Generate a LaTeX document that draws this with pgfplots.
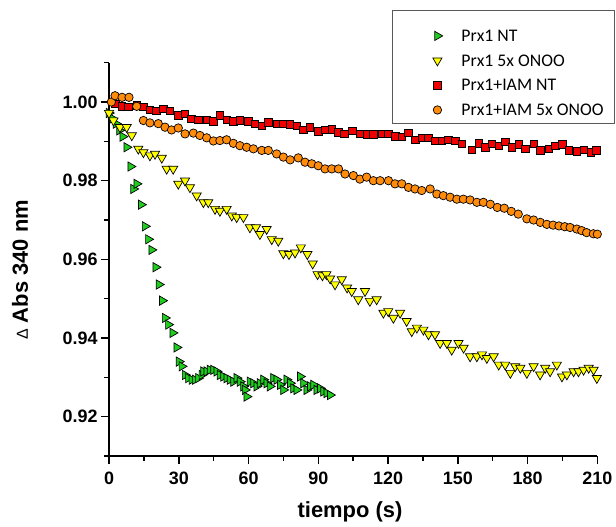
\documentclass[border=0pt]{standalone}
\usepackage{pgfplots}
\pgfplotsset{compat=1.18}
\usepackage{pgfplotstable}
\usepackage{fontspec}
\setmainfont{Liberation Sans}
\newfontfamily\carlito{Carlito}
\definecolor{cgreen}{RGB}{30,205,30}
\definecolor{cyellow}{RGB}{255,255,0}
\definecolor{cred}{RGB}{240,0,0}
\definecolor{corange}{RGB}{255,140,10}

\pgfplotstableread{
x y
0.0 0.9972
1.5 0.9958
3.0 0.9945
4.5 0.9928
5.9 0.9912
7.6 0.9885
9.3 0.9836
10.5 0.9779
11.9 0.9792
13.8 0.9739
15.5 0.9684
16.9 0.9651
18.3 0.9624
20.1 0.9580
21.5 0.9536
22.9 0.9495
24.1 0.9451
25.5 0.9434
27.4 0.9413
29.1 0.9376
30.1 0.9340
31.3 0.9328
32.7 0.9306
34.1 0.9298
35.6 0.9294
37.0 0.9294
38.4 0.9298
39.9 0.9306
40.6 0.9315
42.0 0.9315
43.4 0.9319
44.9 0.9319
46.3 0.9315
47.7 0.9306
49.2 0.9302
50.6 0.9298
52.0 0.9294
53.5 0.9289
54.9 0.9298
56.3 0.9289
57.8 0.9277
58.5 0.9268
59.2 0.9251
60.6 0.9289
62.1 0.9285
63.5 0.9277
64.9 0.9285
66.4 0.9294
67.8 0.9285
69.2 0.9277
70.7 0.9298
72.1 0.9294
73.6 0.9281
75.0 0.9268
76.4 0.9294
77.9 0.9285
79.3 0.9272
80.7 0.9268
82.2 0.9302
83.6 0.9285
85.0 0.9268
86.5 0.9277
87.9 0.9281
89.3 0.9268
90.8 0.9272
92.2 0.9264
93.6 0.9260
95.1 0.9255
}\greentab

\pgfplotstableread{
x y
0.0 0.9972
1.9 0.9953
4.7 0.9936
7.6 0.9936
9.8 0.9915
12.6 0.9881
14.8 0.9872
17.6 0.9864
19.8 0.9868
22.7 0.9858
24.8 0.9830
27.6 0.9830
29.8 0.9792
32.7 0.9800
34.8 0.9783
37.7 0.9762
40.6 0.9745
42.7 0.9745
45.6 0.9728
47.7 0.9723
50.6 0.9728
52.8 0.9711
54.9 0.9707
57.8 0.9707
60.6 0.9681
63.2 0.9681
64.9 0.9664
67.8 0.9677
70.0 0.9651
72.8 0.9647
75.0 0.9615
77.4 0.9613
80.0 0.9617
82.5 0.9630
85.3 0.9613
87.6 0.9589
89.7 0.9562
91.8 0.9559
93.5 0.9562
95.1 0.9551
97.2 0.9536
100.1 0.9549
102.4 0.9528
104.4 0.9519
107.2 0.9498
110.1 0.9519
112.2 0.9494
115.1 0.9498
118.0 0.9464
120.1 0.9468
122.3 0.9451
125.2 0.9464
128.0 0.9443
130.2 0.9417
132.4 0.9426
135.2 0.9421
137.4 0.9409
140.2 0.9409
142.4 0.9387
145.3 0.9387
147.4 0.9370
150.3 0.9387
152.5 0.9375
155.3 0.9353
158.2 0.9353
160.4 0.9358
162.5 0.9349
165.4 0.9353
167.6 0.9332
170.4 0.9332
172.6 0.9311
174.7 0.9328
176.9 0.9324
179.7 0.9311
182.6 0.9328
185.4 0.9307
187.6 0.9324
189.7 0.9315
192.6 0.9332
194.8 0.9302
196.9 0.9307
199.8 0.9315
201.9 0.9315
204.1 0.9319
206.3 0.9324
208.4 0.9319
209.8 0.9298
}\yellowtab

\pgfplotstableread{
x y
2.8 0.9995
5.4 0.9989
8.3 0.9987
11.9 0.9992
14.8 0.9987
17.6 0.9980
20.4 0.9977
23.4 0.9983
26.2 0.9977
29.8 0.9966
32.7 0.9970
35.5 0.9957
38.4 0.9955
42.0 0.9955
44.9 0.9951
47.7 0.9966
50.6 0.9955
53.5 0.9951
56.3 0.9953
59.9 0.9951
62.8 0.9945
65.7 0.9939
68.5 0.9948
72.1 0.9944
75.0 0.9944
77.9 0.9943
80.7 0.9939
83.6 0.9930
86.5 0.9936
90.1 0.9925
93.0 0.9929
95.8 0.9931
98.7 0.9923
101.3 0.9919
104.6 0.9926
108.0 0.9919
110.8 0.9918
113.7 0.9918
117.3 0.9919
120.2 0.9919
123.1 0.9913
125.9 0.9911
128.8 0.9921
131.7 0.9904
134.5 0.9909
137.4 0.9909
140.3 0.9902
143.2 0.9901
146.0 0.9904
148.9 0.9902
151.8 0.9894
156.1 0.9879
159.0 0.9895
161.8 0.9885
164.7 0.9894
167.6 0.9889
170.4 0.9898
173.3 0.9885
176.2 0.9892
179.1 0.9881
182.6 0.9894
185.5 0.9877
189.1 0.9881
192.0 0.9889
194.9 0.9892
197.7 0.9877
201.3 0.9875
204.2 0.9878
207.1 0.9872
209.6 0.9877
}\redtab

\pgfplotstableread{
x y
1.0 1.0000
2.6 1.0016
5.6 1.0012
8.6 1.0012
11.9 0.9989
14.8 0.9953
17.6 0.9947
21.2 0.9945
24.1 0.9936
26.9 0.9929
29.8 0.9934
32.7 0.9919
36.3 0.9921
39.1 0.9915
42.0 0.9909
44.9 0.9901
47.7 0.9902
50.6 0.9904
53.5 0.9895
56.3 0.9889
59.2 0.9885
62.1 0.9881
65.7 0.9877
68.5 0.9877
72.1 0.9868
75.0 0.9860
77.9 0.9853
81.4 0.9858
84.3 0.9847
87.2 0.9843
90.0 0.9838
92.9 0.9830
95.8 0.9830
98.7 0.9830
101.5 0.9817
105.1 0.9813
107.9 0.9804
110.8 0.9809
113.7 0.9800
116.6 0.9800
120.2 0.9800
123.0 0.9792
125.9 0.9792
128.8 0.9783
131.6 0.9779
134.5 0.9775
138.1 0.9779
141.0 0.9766
143.8 0.9762
146.7 0.9758
149.6 0.9753
152.4 0.9753
155.3 0.9751
158.2 0.9745
161.0 0.9745
164.0 0.9740
167.0 0.9732
170.0 0.9730
173.0 0.9722
176.0 0.9715
179.7 0.9703
182.6 0.9700
185.5 0.9694
188.3 0.9689
191.0 0.9687
193.5 0.9685
196.0 0.9683
198.3 0.9681
201.2 0.9677
203.3 0.9673
205.4 0.9668
208.3 0.9665
210.0 0.9664
}\orangetab

\begin{document}
\begin{tikzpicture}
\useasboundingbox (-109bp,-71bp) rectangle (507bp,456bp);
\begin{axis}[
  at={(0,0)}, anchor=south west,
  scale only axis, width=488.3bp, height=393.3bp,
  xmin=0, xmax=210, ymin=0.91, ymax=1.01,
  axis x line*=bottom, axis y line*=left,
  axis line style={line width=1.8bp, black},
  xtick={0,30,60,90,120,150,180,210},
  minor xtick={15,45,75,105,135,165,195},
  ytick={0.92,0.94,0.96,0.98,1.00},
  minor ytick={0.91,0.93,0.95,0.97,0.99,1.01},
  tick align=outside,
  major tick length=8bp, minor tick length=4.5bp,
  tick style={black, line width=1.5bp},
  /pgf/number format/assume math mode=true,
  tick label style={font=\bfseries\fontsize{18}{20}\selectfont},
  yticklabel style={/pgf/number format/.cd, fixed, fixed zerofill, precision=2},
  xticklabel style={yshift=-4bp},
  every axis x label/.style={at={(axis description cs:0.4935,-0.1424)}, anchor=center},
  every axis y label/.style={at={(axis description cs:-0.1823,0.473)}, anchor=center, rotate=90},
  label style={font=\bfseries\fontsize{22}{26}\selectfont},
  xlabel={tiempo (s)},
  ylabel={{\mdseries\fontsize{16}{18}\selectfont Δ} Abs 340 nm},
  clip=false,
  legend cell align=left,
  legend style={at={(axis description cs:0.5796,1.134)}, anchor=north west,
    draw=black!65, line width=0.8bp, fill=white,
    font=\carlito\fontsize{17.8}{20}\selectfont,
    inner xsep=11bp, inner ysep=6bp, row sep=11.2bp,
    cells={anchor=base west},
    nodes={inner sep=0bp}},
  legend image code/.code={\path[draw=none,fill=none] (0,0) -- (58bp,0); \draw[#1] plot coordinates {(34bp,5.5bp)};},
]
\addplot[only marks, mark=triangle*, mark size=5.3bp, mark options={rotate=-90, fill=cgreen, draw=black, line width=0.7bp}] table[x=x,y=y] {\greentab};
\addlegendentry{\rule{0pt}{25bp}Prx1 NT}
\addplot[only marks, mark=triangle*, mark size=5.3bp, mark options={rotate=180, fill=cyellow, draw=black, line width=0.7bp}] table[x=x,y=y] {\yellowtab};
\addlegendentry{\rule{0pt}{12bp}Prx1 5x ONOO}
\addplot[only marks, mark=square*, mark size=3.7bp, mark options={fill=cred, draw=black, line width=0.7bp}] table[x=x,y=y] {\redtab};
\addlegendentry{\rule{0pt}{12bp}Prx1+IAM NT}
\addplot[only marks, mark=*, mark size=4.2bp, mark options={fill=corange, draw=black, line width=0.7bp}] table[x=x,y=y] {\orangetab};
\addlegendentry{\rule{0pt}{12bp}Prx1+IAM 5x ONOO}
\end{axis}
\end{tikzpicture}
\end{document}
